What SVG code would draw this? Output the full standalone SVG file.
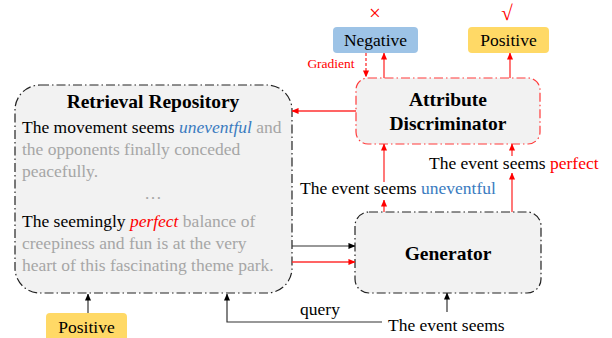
<svg xmlns="http://www.w3.org/2000/svg" width="612" height="338" viewBox="0 0 612 338">
<style>
text{font-family:"Liberation Serif","Times New Roman",serif;font-size:17.5px;fill:#000}
.b{font-weight:bold;font-size:19.5px}
.g{fill:#a6a6a6}
.bl{fill:#3a7bc0}
.r{fill:#ff0000}
.sm{font-size:13.5px}
.mk{font-size:21px}
.box{fill:#f2f2f2;stroke-width:1.2;stroke-dasharray:9 3 1.5 3}
.k{stroke:#222}
.rs{stroke:#ff3b3b}
.la{fill:none;stroke:#ff3030;stroke-width:1.3}
.lk{fill:none;stroke:#333;stroke-width:1.2}
</style>
<defs>
<marker id="ar" viewBox="0 0 8 8" refX="7.5" refY="4" markerWidth="7" markerHeight="7" markerUnits="userSpaceOnUse" orient="auto"><path d="M0,0.5 L8,4 L0,7.5z" fill="#ff0000"/></marker>
<marker id="ak" viewBox="0 0 8 8" refX="7.5" refY="4" markerWidth="7" markerHeight="7" markerUnits="userSpaceOnUse" orient="auto"><path d="M0,0.5 L8,4 L0,7.5z" fill="#000"/></marker>
</defs>

<g id="repository">
<rect class="box k" x="15" y="85" width="277" height="208" rx="25"/>
<text class="b" x="153" y="108" text-anchor="middle">Retrieval Repository</text>
<text x="22" y="133">The movement seems <tspan class="bl" font-style="italic">uneventful</tspan> <tspan class="g">and</tspan></text>
<text class="g" x="22" y="155">the opponents finally conceded</text>
<text class="g" x="22" y="177">peacefully.</text>
<text class="g" x="153" y="199" text-anchor="middle">…</text>
<text x="22" y="227">The seemingly <tspan class="r" font-style="italic">perfect</tspan> <tspan class="g">balance of</tspan></text>
<text class="g" x="22" y="249">creepiness and fun is at the very</text>
<text class="g" x="22" y="271">heart of this fascinating theme park.</text>
</g>

<g id="discriminator">
<rect class="box rs" x="356" y="78" width="184" height="66" rx="12"/>
<text class="b" x="448" y="106" text-anchor="middle">Attribute</text>
<text class="b" x="448" y="130" text-anchor="middle">Discriminator</text>
</g>

<g id="generator">
<rect class="box k" x="355" y="212" width="186" height="81" rx="14"/>
<text class="b" x="448" y="260" text-anchor="middle">Generator</text>
</g>

<g id="negative">
<rect x="333" y="27" width="85" height="26" rx="4" fill="#9dc3e6"/>
<text x="375.5" y="46" text-anchor="middle">Negative</text>
<text x="375" y="20" text-anchor="middle" class="r mk">×</text>
</g>

<g id="positive-top">
<rect x="468" y="27" width="81" height="26" rx="4" fill="#ffd966"/>
<text x="508.5" y="46" text-anchor="middle">Positive</text>
<text x="507" y="20" text-anchor="middle" class="r mk">√</text>
</g>

<g id="positive-bottom">
<rect x="46" y="313" width="81" height="30" rx="4" fill="#ffd966"/>
<text x="86.5" y="333" text-anchor="middle">Positive</text>
</g>

<g id="labels">
<text x="331" y="68" text-anchor="middle" class="r sm">Gradient</text>
<text x="300" y="194">The event seems <tspan class="bl">uneventful</tspan></text>
<text x="429" y="169">The event seems <tspan class="r">perfect</tspan></text>
<text x="320" y="315" text-anchor="middle">query</text>
<text x="388" y="331">The event seems</text>
</g>

<g id="connectors">
<path class="la" d="M366,53 V77" stroke-dasharray="3 2" marker-end="url(#ar)"/>
<path class="la" d="M384,78 V53" marker-end="url(#ar)"/>
<path class="la" d="M510,78 V53" marker-end="url(#ar)"/>
<path class="la" d="M356,111 H292" marker-end="url(#ar)"/>
<path class="lk" d="M292,246 H355" marker-end="url(#ak)"/>
<path class="la" d="M292,262 H355" marker-end="url(#ar)"/>
<path class="la" d="M384,212 V200" marker-end="url(#ar)"/>
<path class="la" d="M384,182 V144" marker-end="url(#ar)"/>
<path class="la" d="M512,212 V173" marker-end="url(#ar)"/>
<path class="la" d="M512,156 V144" marker-end="url(#ar)"/>
<path class="lk" d="M88,313 V294" marker-end="url(#ak)"/>
<path class="lk" d="M382,322 H227 V294" marker-end="url(#ak)"/>
<path class="lk" d="M447,312 V293" marker-end="url(#ak)"/>
</g>
</svg>
